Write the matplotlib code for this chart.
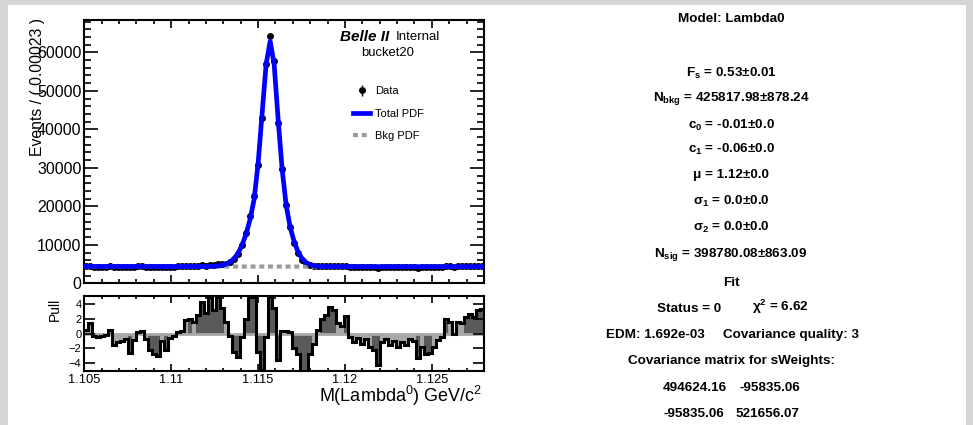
import numpy as np
import matplotlib.pyplot as plt
from matplotlib.patches import Rectangle
from matplotlib.ticker import MultipleLocator

plt.rcParams['font.family'] = ['Liberation Sans', 'DejaVu Sans']
plt.rcParams['mathtext.default'] = 'regular'

# binning of the Lambda0 mass histogram
x_lo, x_hi, n_bins = 1.105, 1.128, 100

# events per bin
data_counts = [
    4413, 4472, 4358, 4345, 4357, 4363, 4408, 4275, 4301, 4307,
    4319, 4199, 4311, 4383, 4389, 4315, 4215, 4181, 4168, 4299,
    4212, 4323, 4342, 4375, 4381, 4479, 4492, 4459, 4527, 4650,
    4560, 4760, 4652, 4900, 4940, 5106, 5528, 6249, 7615, 9950,
    13127, 17400, 22800, 30858, 43000, 56880, 64200, 57735, 41758, 29650,
    20343, 14624, 10592, 7848, 5960, 4996, 4655, 4466, 4463, 4502,
    4515, 4583, 4554, 4434, 4407, 4498, 4306, 4265, 4298, 4245,
    4283, 4215, 4181, 4048, 4254, 4286, 4220, 4259, 4205, 4244,
    4224, 4270, 4256, 4103, 4201, 4134, 4147, 4199, 4258, 4284,
    4446, 4419, 4313, 4418, 4404, 4462, 4487, 4454, 4519, 4524,
]

# total pdf evaluated at the bin centres
total_pdf = [
    4380, 4380, 4378, 4378, 4377, 4376, 4375, 4374, 4374, 4373,
    4372, 4371, 4370, 4370, 4369, 4368, 4367, 4366, 4366, 4365,
    4364, 4363, 4362, 4362, 4361, 4360, 4360, 4360, 4362, 4366,
    4375, 4395, 4440, 4530, 4700, 5000, 5550, 6450, 7900, 10000,
    12900, 16700, 21900, 31300, 44300, 57000, 62900, 56900, 42500, 29600,
    20300, 14600, 10800, 8100, 6400, 5400, 4850, 4560, 4430, 4370,
    4350, 4345, 4343, 4342, 4341, 4340, 4339, 4338, 4338, 4337,
    4336, 4335, 4334, 4333, 4332, 4331, 4330, 4329, 4328, 4327,
    4326, 4325, 4324, 4323, 4322, 4321, 4320, 4319, 4318, 4317,
    4316, 4315, 4314, 4313, 4312, 4311, 4310, 4309, 4308, 4307,
]

# background component (linear)
bkg_x = [1.105, 1.128]
bkg_y = [4380, 4307]

# pull per bin
pulls = [
    0.5, 1.4, -0.3, -0.5, -0.3, -0.2, 0.5, -1.5, -1.1, -1.0,
    -0.8, -2.6, -0.9, 0.2, 0.3, -0.8, -2.3, -2.8, -3.0, -1.0,
    -2.3, -0.6, -0.3, 0.2, 0.3, 1.8, 2.0, 1.5, 2.5, 4.3,
    2.8, 5.0, 3.2, 5.0, 3.5, 1.5, -0.3, -2.5, -3.2, -0.5,
    2.0, 5.0, 5.0, -2.5, -5.0, -0.5, 5.0, 3.5, -3.6, 0.3,
    0.3, 0.2, -2.0, -2.8, -5.5, -5.5, -2.8, -1.4, 0.5, 2.0,
    2.5, 3.6, 3.2, 1.4, 1.0, 2.4, -0.5, -1.1, -0.6, -1.4,
    -0.8, -1.8, -2.3, -4.3, -1.2, -0.7, -1.6, -1.0, -1.8, -1.2,
    -1.5, -0.8, -1.0, -3.3, -1.8, -2.8, -2.6, -1.8, -0.9, -0.5,
    2.0, 1.6, 0.0, 1.6, 1.4, 2.3, 2.7, 2.2, 3.2, 3.3,
]

y_ticks = [0, 10000, 20000, 30000, 40000, 50000, 60000]
x_ticks = [1.105, 1.11, 1.115, 1.12, 1.125]
x_tick_labels = ['1.105', '1.11', '1.115', '1.12', '1.125']
pull_ticks = [-4, -2, 0, 2, 4]

fit_lines = [
    'F$_s$ = 0.53±0.01',
    'N$_{bkg}$ = 425817.98±878.24',
    'c$_0$ = -0.01±0.0',
    'c$_1$ = -0.06±0.0',
    'μ = 1.12±0.0',
    'σ$_1$ = 0.0±0.0',
    'σ$_2$ = 0.0±0.0',
    'N$_{sig}$ = 398780.08±863.09',
]


def px_x(x):
    return x / 973.0


def px_y(y):
    return 1.0 - y / 425.0


edges = np.linspace(x_lo, x_hi, n_bins + 1)
centers = 0.5 * (edges[1:] + edges[:-1])
counts = np.array(data_counts, dtype=float)
pull = np.array(pulls)

fig = plt.figure(figsize=(9.73, 4.25), dpi=100, facecolor='#d6d6d6')
fig.patches.append(Rectangle((px_x(8), 0), px_x(958), px_y(5), transform=fig.transFigure,
                             facecolor='white', edgecolor='none', zorder=-1))

# ---- main fit panel
ax = fig.add_axes([px_x(84.3), px_y(283.3), px_x(399.7), (283.3 - 20) / 425.0])
eb = ax.errorbar(centers, counts, yerr=np.sqrt(counts), fmt='o', color='black',
                 ms=4, elinewidth=1, capsize=0, zorder=2, label='Data')
tot, = ax.plot(centers, total_pdf, color='#0000ff', lw=3.4, zorder=4, label='Total PDF')
bkg, = ax.plot(bkg_x, bkg_y, color='#9a9a9a', lw=3, dashes=(1.2, 0.9), zorder=3,
               label='Bkg PDF')
ax.set_xlim(x_lo, x_hi)
ax.set_ylim(0, 68400)
ax.set_yticks(y_ticks)
ax.yaxis.set_minor_locator(MultipleLocator(2000))
ax.xaxis.set_major_locator(MultipleLocator(0.005))
ax.xaxis.set_minor_locator(MultipleLocator(0.001))
ax.tick_params(which='both', direction='in', top=True, right=True, width=1.2,
               labelbottom=False, labelsize=11.5, pad=2)
ax.tick_params(axis='y', which='major', length=10)
ax.tick_params(axis='y', which='minor', length=5)
ax.tick_params(axis='x', which='major', length=6)
ax.tick_params(axis='x', which='minor', length=3)
for s in ax.spines.values():
    s.set_linewidth(1.5)
ax.text(-0.117, 1.008, 'Events / ( 0.00023 )', transform=ax.transAxes, rotation=90,
        ha='center', va='top', fontsize=11.3)

ax.text(0.64, 0.935, 'Belle II', transform=ax.transAxes, fontsize=11,
        fontweight='bold', fontstyle='italic', va='center')
ax.text(0.778, 0.935, 'Internal', transform=ax.transAxes, fontsize=9.5, va='center')
ax.text(0.759, 0.875, 'bucket20', transform=ax.transAxes, fontsize=9.4,
        ha='center', va='center')

ax.legend(handles=[eb, tot, bkg], loc='upper left', bbox_to_anchor=(0.673, 0.748),
          frameon=False, fontsize=8, handlelength=1.5, handletextpad=0.45,
          labelspacing=1.12, borderpad=0, borderaxespad=0)

# ---- pull panel
axp = fig.add_axes([px_x(84.3), px_y(371), px_x(399.7), 75 / 425.0])
colors = ['#5a5a5a' if abs(p) >= 2 else '#a8a8a8' for p in pulls]
axp.bar(centers, pull, width=edges[1] - edges[0], color=colors, edgecolor='none', zorder=1)
axp.axhline(0, color='#a8a8a8', lw=2, zorder=1.5)
axp.stairs(pull, edges, baseline=None, color='black', lw=2.2, zorder=2)
axp.set_xlim(x_lo, x_hi)
axp.set_ylim(-5.1, 5.1)
axp.set_yticks(pull_ticks)
axp.set_xticks(x_ticks, x_tick_labels)
axp.xaxis.set_minor_locator(MultipleLocator(0.001))
axp.tick_params(which='both', direction='in', top=True, right=True, width=1.2)
axp.tick_params(axis='y', which='major', length=8, labelsize=8, pad=2)
axp.tick_params(axis='x', which='major', length=5, labelsize=9.3, pad=2)
axp.tick_params(axis='x', which='minor', length=2.5)
for s in axp.spines.values():
    s.set_linewidth(1.5)
axp.text(-0.073, 0.98, 'Pull', transform=axp.transAxes, rotation=90,
         ha='center', va='top', fontsize=10)
axp.text(0.995, -0.42, 'M(Lambda$^0$) GeV/c$^2$', transform=axp.transAxes,
         ha='right', va='baseline', fontsize=13)

# ---- fit summary text
tkw = dict(fontsize=9.7, fontweight='bold', va='baseline')
cx = px_x(731)
fig.text(cx, px_y(22.5), 'Model: Lambda0', ha='center', **tkw)
for line, yc in zip(fit_lines, [72, 96, 124, 148, 174, 200, 226, 252]):
    fig.text(cx, px_y(yc + 4.5), line, ha='center', **tkw)
fig.text(cx, px_y(285.5), 'Fit', ha='center', **tkw)
fig.text(px_x(657), px_y(311.5), 'Status = 0', ha='left', **tkw)
fig.text(px_x(752), px_y(311.5), r'$\chi^2$ = 6.62', ha='left', **tkw)
fig.text(px_x(606), px_y(338), 'EDM: 1.692e-03', ha='left', **tkw)
fig.text(px_x(723), px_y(338), 'Covariance quality: 3', ha='left', **tkw)
fig.text(cx, px_y(364), 'Covariance matrix for sWeights:', ha='center', **tkw)
fig.text(px_x(663), px_y(391), '494624.16', ha='left', **tkw)
fig.text(px_x(739), px_y(391), '-95835.06', ha='left', **tkw)
fig.text(px_x(663), px_y(417), '-95835.06', ha='left', **tkw)
fig.text(px_x(736), px_y(417), '521656.07', ha='left', **tkw)

fig.savefig('out.png', dpi=100, facecolor=fig.get_facecolor())
